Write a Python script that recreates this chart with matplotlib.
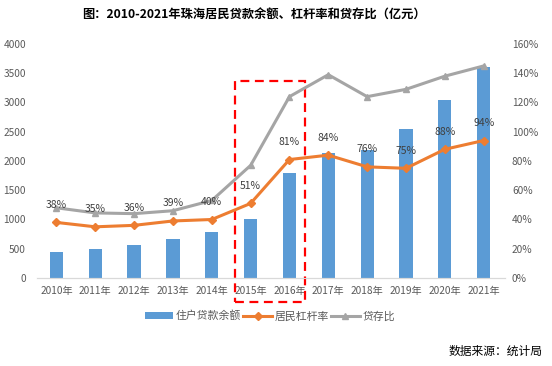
import matplotlib
matplotlib.use("Agg")
import matplotlib.pyplot as plt
from matplotlib.patches import Rectangle

plt.rcParams["font.family"] = ["Noto Sans CJK SC", "DejaVu Sans"]

years = ["2010年", "2011年", "2012年", "2013年", "2014年", "2015年",
         "2016年", "2017年", "2018年", "2019年", "2020年", "2021年"]
loans = [450, 500, 565, 665, 785, 1008, 1800, 2140, 2190, 2550, 3045, 3610]
leverage = [38, 35, 36, 39, 40, 51, 81, 84, 76, 75, 88, 94]
loan_deposit = [48, 44.5, 44, 46, 53, 77, 124, 139, 124, 129, 138, 145]

BAR = "#5b9bd5"
ORANGE = "#ed7d31"
GRAY = "#a5a5a5"
TICK = "#595959"

fig = plt.figure(figsize=(5.52, 3.66), dpi=100)
ax = fig.add_axes([37 / 552, 1 - 278 / 366, 468 / 552, 234 / 366])
ax2 = ax.twinx()

x = list(range(len(years)))
ax.bar(x, loans, width=0.34, color=BAR, zorder=2, label="住户贷款余额")
ax.set_ylim(0, 4000)
ax.set_yticks(range(0, 4001, 500))
ax.set_xlim(-0.5, 11.55)
ax.set_xticks(x)
ax.set_xticklabels(years)

ax2.plot(x, leverage, color=ORANGE, lw=2.2, marker="D", ms=4, zorder=4, label="居民杠杆率")
ax2.plot(x, loan_deposit, color=GRAY, lw=2.2, marker="^", ms=5, zorder=3, label="贷存比")
ax2.set_ylim(0, 160)
ax2.set_yticks(range(0, 161, 20))
ax2.set_yticklabels([f"{v}%" for v in range(0, 161, 20)])

for i, v in enumerate(leverage):
    ax2.annotate(f"{v}%", (i, v), xytext=(0, 9), textcoords="offset points",
                 ha="center", va="bottom", fontsize=7.5, color="#404040", zorder=5)

for a in (ax, ax2):
    for s in ("top", "right", "left"):
        a.spines[s].set_visible(False)
    a.spines["bottom"].set_color("#d9d9d9")
    a.tick_params(length=0, colors=TICK, labelsize=7.3)
ax.tick_params(axis="y", pad=8)
ax.tick_params(axis="x", pad=6)
ax2.tick_params(axis="y", pad=5)

# red dashed highlight box around 2015-2016
box = Rectangle((4.6, -410), 1.8, 3780, fill=False, ec="#ff0000", lw=1.6,
                ls=(0, (4, 2.5)), clip_on=False, zorder=6)
ax.add_patch(box)

h1, l1 = ax.get_legend_handles_labels()
h2, l2 = ax2.get_legend_handles_labels()
fig.legend(h1 + h2, l1 + l2, loc="center", bbox_to_anchor=(270 / 552, 1 - 316 / 366),
           ncol=3, frameon=False, fontsize=7.8, labelcolor=TICK,
           handlelength=2.6, handletextpad=0.3, columnspacing=0.2)

fig.text(254 / 552, 1 - 15 / 366, "图：2010-2021年珠海居民贷款余额、杠杆率和贷存比（亿元）",
         ha="center", va="center", fontsize=8.8, fontweight="bold", color="#000000")
fig.text(543 / 552, 1 - 351 / 366, "数据来源：统计局", ha="right", va="center",
         fontsize=8.5, color="#000000")

fig.savefig("out.png", dpi=100)
